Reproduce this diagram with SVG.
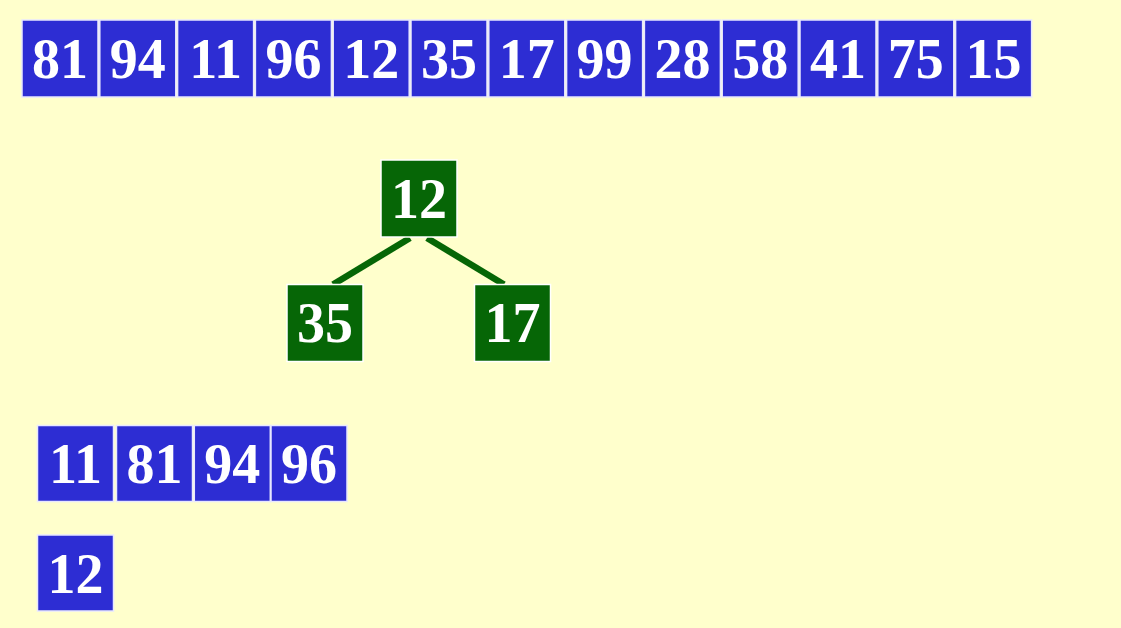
<svg xmlns="http://www.w3.org/2000/svg" width="1121" height="628" viewBox="0 0 1121 628">
<style>
.b{fill:#2d2dd3;stroke:#e8e8ff;stroke-width:1.5}
.g{fill:#066606;stroke:#ffffff;stroke-width:1.5}
.t{font-family:"Liberation Serif","Times New Roman",serif;font-weight:bold;font-size:56px;fill:#ffffff;text-anchor:middle}
.e{stroke:#066606;stroke-width:6.5;fill:none}
</style>
<rect width="1121" height="628" fill="#ffffcc"/>
<g id="array">
<g id="a0"><rect class="b" x="22" y="20" width="76" height="77"/><text class="t" x="60" y="77.5">81</text></g>
<g id="a1"><rect class="b" x="99.8" y="20" width="76" height="77"/><text class="t" x="137.8" y="77.5">94</text></g>
<g id="a2"><rect class="b" x="177.6" y="20" width="76" height="77"/><text class="t" x="215.6" y="77.5">11</text></g>
<g id="a3"><rect class="b" x="255.4" y="20" width="76" height="77"/><text class="t" x="293.4" y="77.5">96</text></g>
<g id="a4"><rect class="b" x="333.2" y="20" width="76" height="77"/><text class="t" x="371.2" y="77.5">12</text></g>
<g id="a5"><rect class="b" x="411" y="20" width="76" height="77"/><text class="t" x="449" y="77.5">35</text></g>
<g id="a6"><rect class="b" x="488.8" y="20" width="76" height="77"/><text class="t" x="526.8" y="77.5">17</text></g>
<g id="a7"><rect class="b" x="566.6" y="20" width="76" height="77"/><text class="t" x="604.6" y="77.5">99</text></g>
<g id="a8"><rect class="b" x="644.4" y="20" width="76" height="77"/><text class="t" x="682.4" y="77.5">28</text></g>
<g id="a9"><rect class="b" x="722.2" y="20" width="76" height="77"/><text class="t" x="760.2" y="77.5">58</text></g>
<g id="a10"><rect class="b" x="800" y="20" width="76" height="77"/><text class="t" x="838" y="77.5">41</text></g>
<g id="a11"><rect class="b" x="877.8" y="20" width="76" height="77"/><text class="t" x="915.8" y="77.5">75</text></g>
<g id="a12"><rect class="b" x="955.6" y="20" width="76" height="77"/><text class="t" x="993.6" y="77.5">15</text></g>
</g>
<g id="connectors">
<line class="e" x1="410" y1="238" x2="333" y2="284.5"/>
<line class="e" x1="427" y1="238" x2="504" y2="284.5"/>
</g>
<g id="n12"><rect class="g" x="381" y="160" width="76" height="77"/><text class="t" x="419" y="217.5">12</text></g>
<g id="n35"><rect class="g" x="287" y="284.5" width="76" height="77"/><text class="t" x="325" y="342">35</text></g>
<g id="n17"><rect class="g" x="474.5" y="284.5" width="76" height="77"/><text class="t" x="512.5" y="342">17</text></g>
<g id="sorted">
<g id="s0"><rect class="b" x="37.5" y="425.5" width="76" height="76"/><text class="t" x="75.5" y="482.5">11</text></g>
<g id="s1"><rect class="b" x="116.5" y="425.5" width="76" height="76"/><text class="t" x="154.5" y="482.5">81</text></g>
<g id="s2"><rect class="b" x="194.3" y="425.5" width="76" height="76"/><text class="t" x="232.3" y="482.5">94</text></g>
<g id="s3"><rect class="b" x="271" y="425.5" width="76" height="76"/><text class="t" x="309" y="482.5">96</text></g>
</g>
<g id="out0"><rect class="b" x="37.5" y="535" width="76" height="76"/><text class="t" x="75.5" y="592.5">12</text></g>
</svg>
